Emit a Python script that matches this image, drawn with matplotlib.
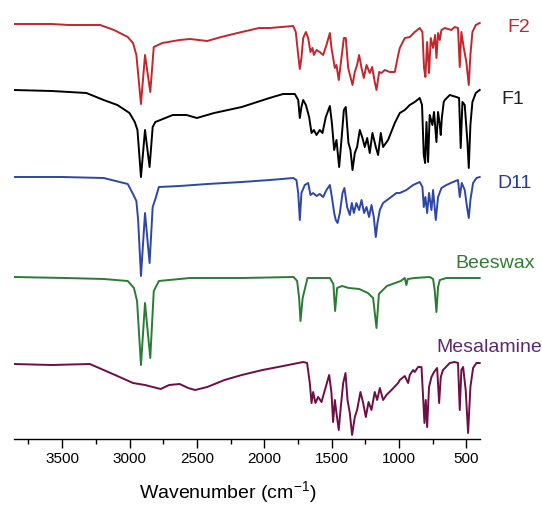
# FTIR spectra - Mesalamine, Beeswax, D11, F1, F2

import matplotlib
matplotlib.use("Agg")
import matplotlib.pyplot as plt
from matplotlib.ticker import MultipleLocator

plt.rcParams['font.family'] = ['Liberation Sans', 'DejaVu Sans']
plt.rcParams['mathtext.fontset'] = 'custom'
plt.rcParams['mathtext.rm'] = 'Liberation Sans'

# Transmittance (a.u., 0 = baseline at 3860 cm-1)

f2_wn = [3861, 3577, 3449, 3218, 3115, 3013, 2974, 2949, 2915, 2885, 2846, 2820, 2756, 2628, 2551,
         2423, 2320, 2167, 2038, 1958, 1785, 1766, 1748, 1736, 1724, 1711, 1691, 1674, 1657, 1642,
         1632, 1612, 1588, 1563, 1538, 1513, 1501, 1476, 1464, 1447, 1427, 1409, 1395, 1377, 1360,
         1345, 1328, 1311, 1296, 1278, 1261, 1241, 1217, 1199, 1180, 1167, 1147, 1130, 1105, 1068,
         1031, 1006, 994, 957, 920, 883, 846, 826, 814, 804, 791, 777, 764, 747, 732, 722, 710, 697,
         685, 660, 611, 586, 562, 549, 537, 519, 500, 482, 470, 455, 430, 401]
f2_t = [0, 0, -1, -1, -6, -13, -19, -31, -80, -31, -68, -23, -19, -16, -15,
        -17, -13, -8, -4, -4, -2, -8, -31, -45, -34, -14, -8, -14, -28, -24,
        -31, -26, -28, -31, -21, -9, -24, -44, -41, -56, -34, -14, -14, -44, -53,
        -61, -48, -41, -31, -44, -54, -41, -49, -43, -58, -66, -48, -49, -46, -48,
        -48, -31, -24, -14, -13, -8, -4, -8, -44, -53, -18, -49, -14, -24, -11, -34, -9, -16,
        -6, -4, -6, -3, -4, -43, -8, -24, -38, -61, -31, -8, -1, 1]

f1_wn = [3861, 3577, 3320, 3192, 3090, 3000, 2961, 2941, 2915, 2885, 2851, 2828, 2808, 2679, 2577,
         2500, 2372, 2167, 1961, 1860, 1773, 1748, 1736, 1724, 1711, 1691, 1667, 1649, 1632, 1612,
         1588, 1568, 1543, 1513, 1498, 1481, 1464, 1444, 1427, 1409, 1395, 1375, 1360, 1345, 1328,
         1311, 1291, 1271, 1254, 1236, 1217, 1197, 1172, 1155, 1135, 1118, 1081, 1031, 994, 957,
         920, 883, 846, 829, 816, 806, 796, 784, 772, 752, 740, 722, 710, 697, 690, 682, 668, 660,
         623, 574, 554, 542, 529, 512, 492, 482, 470, 455, 430, 401]
f1_t = [0, -1, -3, -10, -15, -23, -32, -40, -87, -40, -77, -37, -32, -25, -25,
        -28, -23, -17, -8, -4, -4, -10, -28, -17, -10, -15, -27, -43, -40, -45,
        -40, -43, -27, -16, -33, -60, -50, -77, -50, -20, -17, -53, -60, -80, -63,
        -57, -40, -48, -57, -48, -63, -43, -57, -65, -43, -57, -50, -33, -23, -20,
        -15, -12, -8, -15, -65, -73, -32, -72, -25, -35, -22, -52, -22, -35, -45, -28, -12, -10,
        -5, -7, -8, -58, -12, -15, -52, -78, -35, -12, -3, 0]

d11_wn = [3861, 3500, 3192, 3013, 2974, 2949, 2936, 2915, 2885, 2851, 2828, 2808, 2782, 2628, 2423,
          2167, 1958, 1785, 1761, 1748, 1736, 1724, 1699, 1674, 1657, 1637, 1612, 1588, 1563, 1538,
          1513, 1498, 1481, 1469, 1456, 1439, 1419, 1405, 1385, 1365, 1350, 1335, 1316, 1296, 1278,
          1259, 1241, 1222, 1204, 1187, 1172, 1160, 1142, 1118, 1068, 1019, 994, 945, 895, 846,
          826, 816, 804, 791, 777, 759, 747, 727, 710, 685, 648, 599, 562, 549, 534, 512, 495, 482,
          470, 450, 425, 401]
d11_t = [0, 0, -1, -7, -17, -24, -43, -99, -36, -86, -30, -22, -10, -9, -7,
         -5, -3, -1, -3, -16, -43, -16, -8, -6, -18, -16, -19, -17, -20, -13,
         -8, -20, -36, -43, -46, -36, -16, -11, -30, -38, -26, -36, -26, -33, -23,
         -36, -30, -40, -28, -40, -60, -46, -33, -26, -21, -16, -16, -13, -8, -5,
         -10, -30, -20, -36, -16, -33, -13, -43, -20, -11, -8, -5, -3, -20, -6, -13, -30, -41,
         -23, -6, -1, 0]

wax_wn = [3861, 3474, 3192, 3013, 2967, 2944, 2915, 2885, 2846, 2820, 2782, 2551, 2167, 1782, 1756,
          1741, 1731, 1715, 1679, 1513, 1487, 1474, 1459, 1423, 1372, 1295, 1231, 1192, 1167, 1149,
          1090, 987, 957, 945, 935, 885, 772, 747, 735, 722, 710, 697, 648, 549, 401]
wax_t = [0, -1, -2, -4, -11, -24, -88, -26, -81, -14, -4, -1, -1, 0, -4,
         -21, -44, -21, -1, -1, -7, -34, -11, -9, -11, -12, -16, -21, -51, -17,
         -9, -4, -1, -8, -2, -1, 0, -2, -13, -35, -10, -3, -1, -1, -1]

mes_wn = [3861, 3577, 3295, 3192, 3090, 2974, 2885, 2769, 2705, 2628, 2564, 2513, 2423, 2295, 2167,
          2013, 1859, 1711, 1682, 1662, 1649, 1637, 1620, 1600, 1575, 1550, 1518, 1501, 1489, 1476,
          1464, 1447, 1432, 1414, 1397, 1382, 1365, 1348, 1328, 1311, 1286, 1266, 1246, 1226, 1204,
          1180, 1162, 1142, 1118, 1093, 1056, 1006, 994, 957, 932, 920, 895, 883, 858, 833, 821,
          811, 801, 791, 777, 759, 740, 717, 702, 690, 673, 623, 586, 562, 549, 537, 524, 505, 487,
          470, 450, 425, 401]
mes_t = [0, -1, 0, -6, -12, -19, -21, -25, -21, -20, -24, -26, -23, -16, -11,
         -6, -2, 2, 1, -19, -39, -28, -39, -33, -38, -26, -11, -29, -58, -36,
         -49, -66, -43, -19, -9, -36, -49, -71, -53, -46, -28, -39, -53, -38, -46,
         -28, -36, -24, -36, -31, -26, -19, -16, -12, -19, -11, -6, -8, -3, -3, -33,
         -59, -36, -63, -23, -13, -8, -4, -39, -13, -6, 1, 2, 1, -46, -6, -3, -26, -69,
         -23, -4, 1, 1]

names = ['F2', 'F1', 'D11', 'Beeswax', 'Mesalamine']
offsets = [415, 349, 262, 162, 75]  # vertical stacking
line_colors = ['#c1272d', '#000000', '#2e46a6', '#2a7b34', '#6d0e46']
text_colors = ['#c62828', '#222222', '#2b3a99', '#2e7d32', '#5b2a6e']
label_pos = [(507.7, 31.7), (501.7, 104), (497.3, 188.3), (455, 268), (436.5, 351.7)]  # pixels

spectra = [(f2_wn, f2_t), (f1_wn, f1_t), (d11_wn, d11_t), (wax_wn, wax_t), (mes_wn, mes_t)]

W, H = 542, 507
fig = plt.figure(figsize=(W / 100, H / 100), dpi=100)
ax = fig.add_axes([13.5 / W, (H - 439) / H, 467 / W, 439 / H])

for (wn, t), off, c in zip(spectra, offsets, line_colors):
    ax.plot(wn, [v + off for v in t], color=c, lw=1.4)

ax.set_xlim(3861, 395)
ax.set_ylim(0, 439)

for s in ['top', 'left', 'right']:
    ax.spines[s].set_visible(False)
ax.spines['bottom'].set_linewidth(1.0)
ax.set_yticks([])
ax.set_xticks([3500, 3000, 2500, 2000, 1500, 1000, 500])
ax.xaxis.set_minor_locator(MultipleLocator(250))
ax.tick_params(axis='x', which='major', direction='out', length=6.5, width=1.0,
               labelsize=11, pad=3)
ax.tick_params(axis='x', which='minor', direction='out', length=3.3, width=1.0)

ax.set_xlabel("Wavenumber (cm$^{-1}$)", fontsize=14)
ax.xaxis.set_label_coords((228 - 13.5) / 467, -40 / 439)

for name, (px, py), c in zip(names, label_pos, text_colors):
    fig.text(px / W, 1 - py / H, name, color=c, fontsize=14, ha='left', va='baseline')

plt.savefig("out.png", dpi=100)
